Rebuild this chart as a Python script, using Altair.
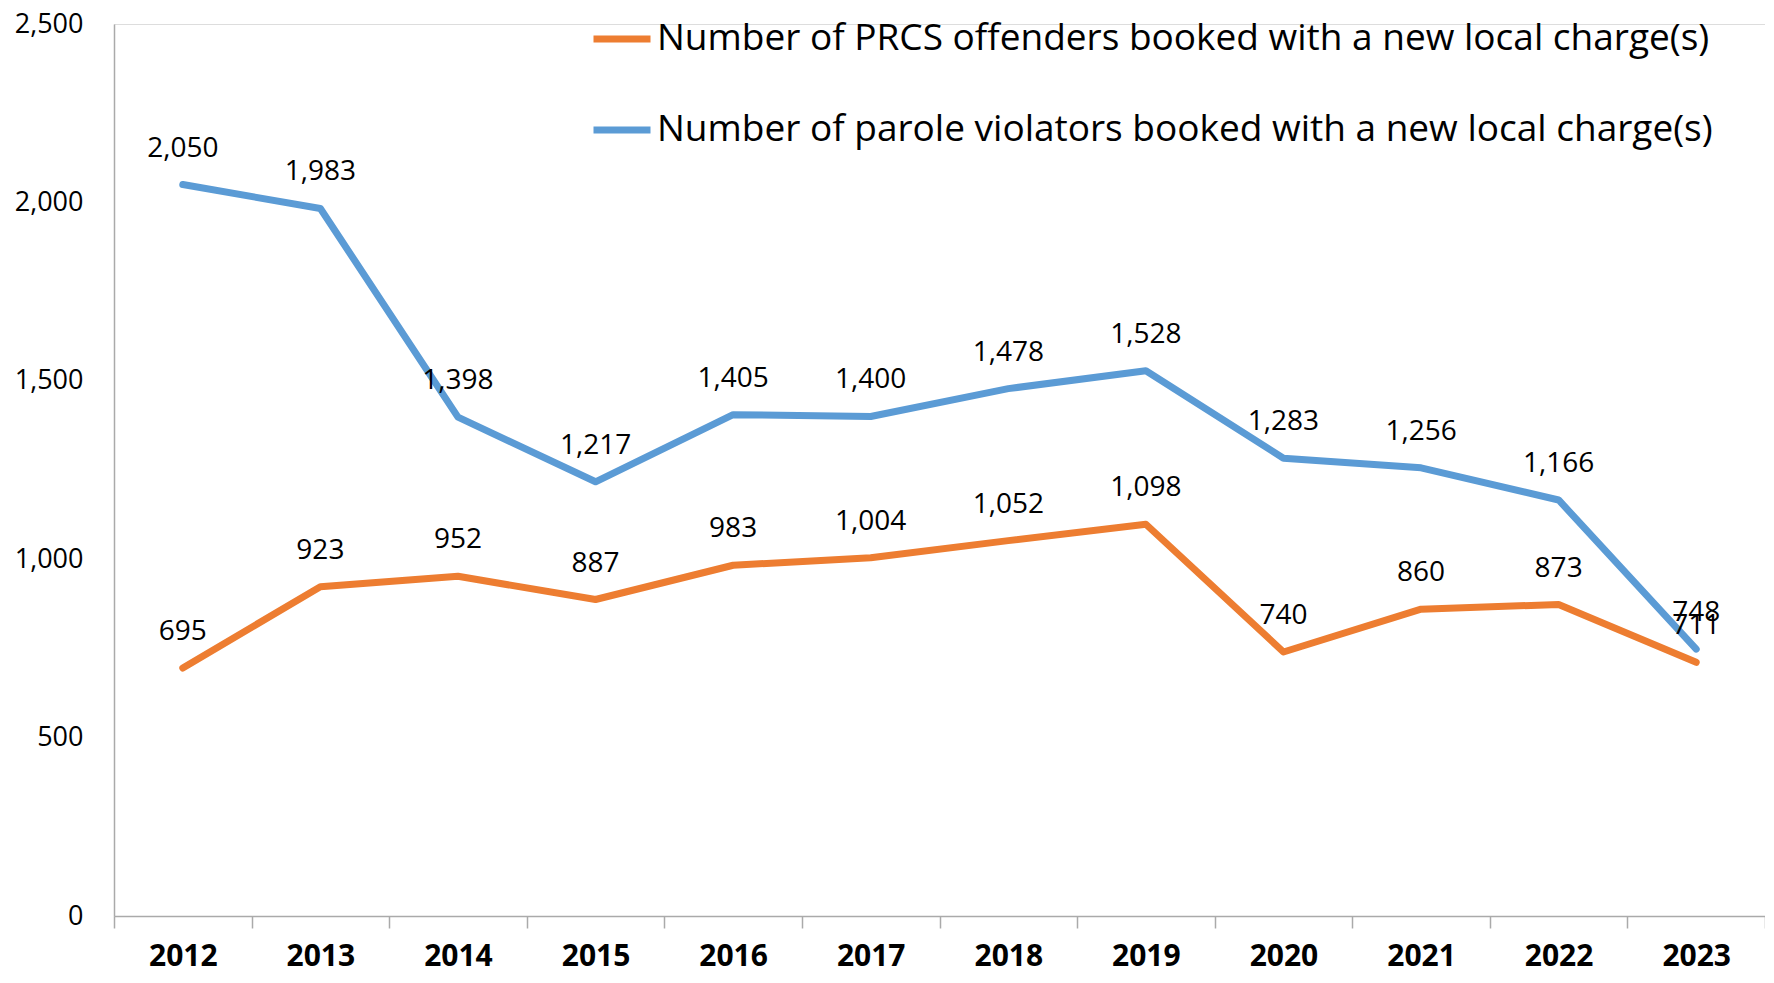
import altair as alt
import pandas as pd

years = ["2012", "2013", "2014", "2015", "2016", "2017", "2018", "2019", "2020", "2021", "2022", "2023"]
prcs = [695, 923, 952, 887, 983, 1004, 1052, 1098, 740, 860, 873, 711]
parole = [2050, 1983, 1398, 1217, 1405, 1400, 1478, 1528, 1283, 1256, 1166, 748]
series_names = [
    "Number of PRCS offenders booked with a new local charge(s)",
    "Number of parole violators booked with a new local charge(s)",
]
colors = ["#ED7D31", "#5B9BD5"]
y_ticks = [0, 500, 1000, 1500, 2000, 2500]

rows = []
for name, vals in zip(series_names, [prcs, parole]):
    for yr, v in zip(years, vals):
        rows.append({"year": yr, "value": v, "series": name})
df = pd.DataFrame(rows)

FONT = "Open Sans"

x_enc = alt.X(
    "year:N",
    sort=years,
    bandPosition=0.5,
    scale=alt.Scale(type="band", paddingInner=0, paddingOuter=0),
    axis=alt.Axis(
        title=None,
        labelAngle=0,
        labelFont=FONT,
        labelFontSize=30,
        labelFontWeight="bold",
        labelColor="#000000",
        tickBand="extent",
        ticks=True,
        tickSize=12,
        tickColor="#AAAAAA",
        tickWidth=1.5,
        domainColor="#AAAAAA",
        domainWidth=1.5,
        labelPadding=13,
        grid=False,
    ),
)
y_enc = alt.Y(
    "value:Q",
    scale=alt.Scale(domain=[0, 2500], nice=False),
    axis=alt.Axis(
        title=None,
        values=y_ticks,
        format=",d",
        labelFont=FONT,
        labelFontSize=27,
        labelColor="#000000",
        ticks=False,
        labelPadding=31,
        domainColor="#AAAAAA",
        domainWidth=1.5,
        grid=False,
    ),
)

lines = alt.Chart(df).mark_line(strokeWidth=7, strokeCap="round", strokeJoin="round").encode(
    x=x_enc,
    y=y_enc,
    color=alt.Color(
        "series:N",
        sort=series_names,
        scale=alt.Scale(domain=series_names, range=colors),
        legend=alt.Legend(
            title=None,
            orient="none",
            legendX=476,
            legendY=-17,
            symbolType="stroke",
            symbolSize=3249,
            symbolStrokeWidth=7,
            labelFont=FONT,
            labelFontSize=37,
            labelColor="#000000",
            labelLimit=2000,
            labelOffset=3,
            rowPadding=41,
            padding=0,
        ),
    ),
)

labels = alt.Chart(df).mark_text(
    font=FONT, fontSize=28, color="#000000", dy=-36, baseline="middle", align="center"
).encode(
    x=alt.X("year:N", sort=years, bandPosition=0.5),
    y="value:Q",
    text=alt.Text("value:Q", format=","),
)

chart = (
    alt.layer(lines, labels)
    .properties(
        width=1651,
        height=892,
        padding={"left": 106, "top": 16, "right": 0, "bottom": 57},
        autosize=alt.AutoSizeParams(type="none"),
    )
    .configure_view(stroke=None)
    .configure(background="white")
)

chart.save("out.html", embed_options={"renderer": "svg", "actions": False})
